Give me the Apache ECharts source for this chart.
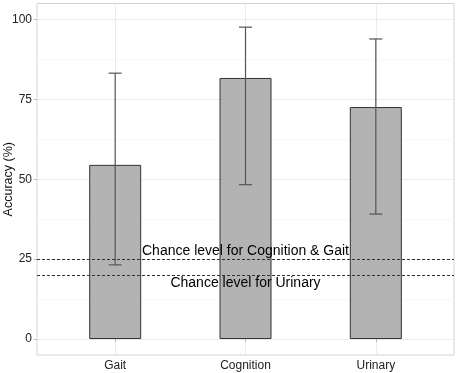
<!DOCTYPE html>
<html>
<head>
<meta charset="utf-8">
<script src="https://cdn.jsdelivr.net/npm/echarts@6/dist/echarts.min.js"></script>
<style>
  html, body { margin: 0; padding: 0; background: #fff; }
  #main { width: 459px; height: 373px; }
</style>
</head>
<body>
<div id="main"></div>
<script>
// 数据
var categories = ['Gait', 'Cognition', 'Urinary'];
var accuracy = [54.5, 81.7, 72.6];
var errLow = [23.2, 48.3, 39.1];
var errHigh = [83.2, 97.6, 93.9];
var chanceLevels = [25, 20];
var chanceLabels = ['Chance level for Cognition & Gait', 'Chance level for Urinary'];
var yTicks = [0, 25, 50, 75, 100];
var yMinor = [12.5, 37.5, 62.5, 87.5];

var font = 'Liberation Sans, Arial, sans-serif';
var chart = echarts.init(document.getElementById('main'));

var xPos = categories.map(function (c, i) { return i + 1; });
var barData = accuracy.map(function (v, i) { return [xPos[i], v]; });
var errData = accuracy.map(function (v, i) { return [xPos[i], errLow[i], errHigh[i]]; });

// 网格线 (ggplot 风格)
var gridLines = [];
yTicks.forEach(function (v) {
  gridLines.push({ yAxis: v, lineStyle: { color: '#ebebeb', width: 1, type: 'solid' } });
});
yMinor.forEach(function (v) {
  gridLines.push({ yAxis: v, lineStyle: { color: '#f5f5f5', width: 0.8, type: 'solid' } });
});
xPos.forEach(function (v) {
  gridLines.push({ xAxis: v, lineStyle: { color: '#ebebeb', width: 1, type: 'solid' } });
});

var option = {
  backgroundColor: '#fff',
  animation: false,
  grid: {
    left: 37, right: 5, top: 3.5, bottom: 18,
    containLabel: false,
    outerBoundsMode: 'none',
    show: true, borderColor: '#d3d3d3', borderWidth: 1, backgroundColor: '#fff'
  },
  xAxis: {
    type: 'value',
    min: 0.4, max: 3.6,
    axisLine: { show: false },
    splitLine: { show: false },
    axisTick: { show: true, length: 3, customValues: xPos, lineStyle: { color: '#bbb' } },
    axisLabel: {
      customValues: xPos,
      margin: 5,
      color: '#222', fontSize: 12, fontFamily: font,
      formatter: function (v) { return categories[Math.round(v) - 1] || ''; }
    }
  },
  yAxis: {
    type: 'value',
    min: -5, max: 105,
    name: 'Accuracy (%)',
    nameLocation: 'middle',
    nameGap: 22,
    nameMoveOverlap: false,
    nameTextStyle: { color: '#111', fontSize: 12.5, fontFamily: font },
    axisLine: { show: false },
    splitLine: { show: false },
    axisTick: { show: true, length: 3, customValues: yTicks, lineStyle: { color: '#bbb' } },
    axisLabel: {
      customValues: yTicks,
      margin: 5,
      color: '#222', fontSize: 12, fontFamily: font
    }
  },
  series: [
    {
      type: 'scatter',
      data: [],
      silent: true,
      z: 0,
      markLine: {
        silent: true, symbol: 'none', animation: false, z: 0,
        label: { show: false },
        data: gridLines
      }
    },
    {
      type: 'bar',
      data: barData,
      barWidth: 52,
      z: 2,
      itemStyle: { color: '#b3b3b3', borderColor: '#333', borderWidth: 1 }
    },
    {
      type: 'custom',
      data: errData,
      z: 3,
      renderItem: function (params, api) {
        var x = api.value(0);
        var lo = api.coord([x, api.value(1)]);
        var hi = api.coord([x, api.value(2)]);
        var l = api.coord([x - 0.05, 0])[0];
        var r = api.coord([x + 0.05, 0])[0];
        var st = { stroke: '#555', lineWidth: 1.2 };
        return {
          type: 'group',
          children: [
            { type: 'line', shape: { x1: lo[0], y1: lo[1], x2: hi[0], y2: hi[1] }, style: st },
            { type: 'line', shape: { x1: l, y1: hi[1], x2: r, y2: hi[1] }, style: st },
            { type: 'line', shape: { x1: l, y1: lo[1], x2: r, y2: lo[1] }, style: st }
          ]
        };
      }
    },
    {
      type: 'scatter',
      data: [],
      silent: true,
      z: 4,
      markLine: {
        silent: true, symbol: 'none', animation: false, z: 5,
        lineStyle: { color: '#333', type: [3, 2], width: 1 },
        data: chanceLevels.map(function (v, i) {
          return {
            yAxis: v,
            label: {
              show: true,
              formatter: chanceLabels[i],
              position: i === 0 ? 'insideMiddleTop' : 'insideMiddleBottom',
              distance: 1,
              color: '#000', fontSize: 14, fontFamily: font
            }
          };
        })
      }
    }
  ]
};
chart.setOption(option);
</script>
</body>
</html>
